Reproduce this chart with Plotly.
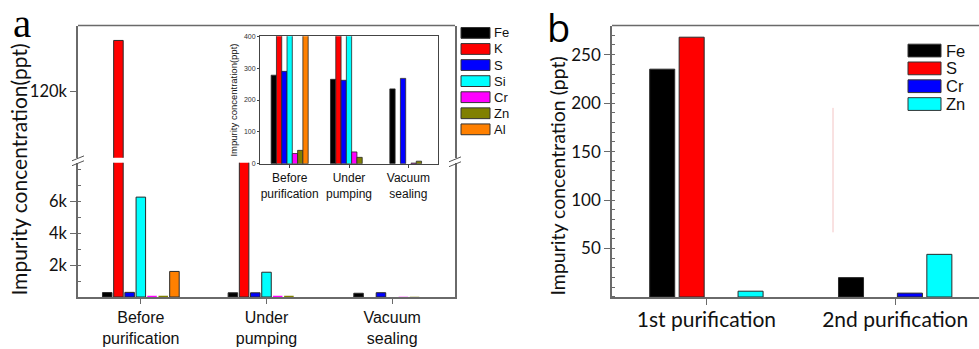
import plotly.graph_objects as go

W, H = 979, 349

# ---------------- data ----------------
a_categories = ["Before<br>purification", "Under<br>pumping", "Vacuum<br>sealing"]
a_elements = ["Fe", "K", "S", "Si", "Cr", "Zn", "Al"]
a_colors = ["#000000", "#ff0000", "#0000ff", "#00ffff", "#ff00ff", "#808000", "#ff8000"]
fe_a = [278, 265, 235]
k_a = [135500, 8800, 0]
s_a = [290, 262, 268]
si_a = [6250, 1550, 0]
cr_a = [32, 37, 2]
zn_a = [42, 20, 8]
al_a = [1600, 0, 0]
a_values = [fe_a, k_a, s_a, si_a, cr_a, zn_a, al_a]

b_categories = ["1st purification", "2nd purification"]
b_elements = ["Fe", "S", "Cr", "Zn"]
b_colors = ["#000000", "#ff0000", "#0000ff", "#00ffff"]
fe_b = [235, 20]
s_b = [268, 0]
cr_b = [0, 4]
zn_b = [6, 44]
b_values = [fe_b, s_b, cr_b, zn_b]

lower_ticks = [2000, 4000, 6000]
lower_ticktext = ["2k", "4k", "6k"]
upper_ticks = [120000]
upper_ticktext = ["120k"]
b_ticks = [50, 100, 150, 200, 250]


def px(x):
    return x / W


def py(y):
    return 1 - y / H


FRAME = "#6a6a6a"
OUTLINE = "#2a2a2a"
SANS = "Liberation Sans"
HUM = "Lato"
BARGAP = 0.376
GROUPGAP = 0.15


def outline_widths(vals, threshold, w):
    # bars too short to be seen get no outline
    return [w if v > threshold else 0 for v in vals]


fig = go.Figure()

inset_w = (1 - BARGAP) / len(a_elements)
for name, col, vals in zip(a_elements, a_colors, a_values):
    fig.add_trace(go.Bar(x=a_categories, y=vals, xaxis="x", yaxis="y", name=name,
                         marker=dict(color=col, line=dict(color=OUTLINE, width=outline_widths(vals, 100, 1))),
                         showlegend=False, hoverinfo="skip"))
    fig.add_trace(go.Bar(x=a_categories, y=vals, xaxis="x", yaxis="y2", name=name,
                         marker=dict(color=col, line=dict(color=OUTLINE, width=1)),
                         showlegend=False, hoverinfo="skip"))
    fig.add_trace(go.Bar(x=a_categories, y=vals, xaxis="x3", yaxis="y3", width=inset_w, name=name,
                         marker=dict(color=col, line=dict(color=OUTLINE, width=outline_widths(vals, 0, 0.8))),
                         showlegend=False, hoverinfo="skip"))

for name, col, vals in zip(b_elements, b_colors, b_values):
    fig.add_trace(go.Bar(x=b_categories, y=vals, xaxis="x4", yaxis="y4", name=name,
                         marker=dict(color=col, line=dict(color=OUTLINE, width=outline_widths(vals, 0, 1))),
                         showlegend=False, hoverinfo="skip"))

axis_common = dict(showgrid=False, zeroline=False, showline=True, linecolor=FRAME, linewidth=1.5,
                   tickcolor=FRAME, fixedrange=True)

fig.update_layout(
    width=W, height=H, margin=dict(l=0, r=0, t=0, b=0), autosize=False,
    paper_bgcolor="white", plot_bgcolor="white",
    barmode="group", bargap=BARGAP, bargroupgap=GROUPGAP,
    showlegend=False,
    xaxis=dict(domain=[px(78), px(455)], anchor="y", type="category", range=[-0.5, 2.5],
               ticks="outside", ticklen=5, tickwidth=1.2,
               tickfont=dict(family=SANS, size=16, color="#111"), **axis_common),
    yaxis=dict(domain=[py(299), py(162)], anchor="x", range=[0, 8400], mirror=True,
               tickvals=lower_ticks, ticktext=lower_ticktext, ticks="outside", ticklen=6,
               tickwidth=1.2, tickfont=dict(family=HUM, size=16.5, color="#111"),
               minor=dict(dtick=1000, ticks="inside", ticklen=3, tickcolor=FRAME, showgrid=False),
               **axis_common),
    yaxis2=dict(domain=[py(157), py(22)], anchor="x", range=[100000, 140000], mirror=True,
                tickvals=upper_ticks, ticktext=upper_ticktext, ticks="outside", ticklen=6,
                tickwidth=1.2, tickfont=dict(family=HUM, size=16.5, color="#111"),
                **axis_common),
    xaxis3=dict(domain=[px(260), px(438)], anchor="y3", type="category", range=[-0.5, 2.5],
                mirror=True, ticks="outside", ticklen=3, showgrid=False, zeroline=False,
                showline=True, linecolor="#444", linewidth=1, tickcolor="#444", fixedrange=True,
                tickfont=dict(family=SANS, size=12, color="#111")),
    yaxis3=dict(domain=[py(163), py(33)], anchor="x3", range=[0, 400], dtick=100, mirror=True,
                ticks="outside", ticklen=2, showgrid=False, zeroline=False, showline=True,
                linecolor="#444", linewidth=1, tickcolor="#444", fixedrange=True,
                tickfont=dict(family=SANS, size=7, color="#333"),
                title=dict(text="Impurity concentration(ppt)", standoff=4,
                           font=dict(family=SANS, size=9.5, color="#111"))),
    xaxis4=dict(domain=[px(612), 1.0], anchor="y4", type="category", range=[-0.5, 1.444],
                ticks="outside", ticklen=6, tickwidth=1.2, ticklabelstandoff=-3,
                tickfont=dict(family=HUM, size=21, color="#111"), **axis_common),
    yaxis4=dict(domain=[py(299), py(22)], anchor="x4", range=[0, 280],
                tickvals=b_ticks, ticks="outside", ticklen=6, tickwidth=1.2,
                tickfont=dict(family=HUM, size=17, color="#111"),
                minor=dict(dtick=10, ticks="inside", ticklen=3, tickcolor=FRAME, showgrid=False),
                **axis_common),
)

shapes = []
# top frame lines
shapes.append(dict(type="line", xref="paper", yref="paper", x0=px(78), x1=px(455), y0=py(22), y1=py(22),
                   line=dict(color=FRAME, width=1.5)))
shapes.append(dict(type="line", xref="paper", yref="paper", x0=px(612), x1=1.0, y0=py(22), y1=py(22),
                   line=dict(color=FRAME, width=1.5)))
# break marks
for cx, cy in [(78, 160), (455, 161)]:
    for dy in (-2.5, 2.5):
        shapes.append(dict(type="line", xref="paper", yref="paper",
                           x0=px(cx - 6), y0=py(cy + dy + 2.5), x1=px(cx + 6), y1=py(cy + dy - 2.5),
                           line=dict(color="#555", width=1)))
# faint artifact line in panel b
shapes.append(dict(type="line", xref="paper", yref="paper", x0=px(833), x1=px(833), y0=py(106), y1=py(233),
                   line=dict(color="#f3c4c4", width=1)))

annotations = []
# legends
for i, (name, col) in enumerate(zip(a_elements, a_colors)):
    cy = 29.5 + i * 16.4
    shapes.append(dict(type="rect", xref="paper", yref="paper", x0=px(461), x1=px(490),
                       y0=py(cy + 5.5), y1=py(cy - 5.5), fillcolor=col, line=dict(color="#333", width=1)))
    annotations.append(dict(text=name, xref="paper", yref="paper", x=px(492), y=py(cy), xanchor="left",
                            yanchor="middle", showarrow=False, font=dict(family=SANS, size=13, color="#111")))
for i, (name, col) in enumerate(zip(b_elements, b_colors)):
    cy = 47.5 + i * 18.2
    shapes.append(dict(type="rect", xref="paper", yref="paper", x0=px(908), x1=px(941),
                       y0=py(cy + 6.5), y1=py(cy - 6.5), fillcolor=col, line=dict(color="#333", width=1)))
    annotations.append(dict(text=name, xref="paper", yref="paper", x=px(944), y=py(cy), xanchor="left",
                            yanchor="middle", showarrow=False, font=dict(family=SANS, size=16.5, color="#111")))

annotations += [
    dict(text="Impurity concentration(ppt)", xref="paper", yref="paper", x=px(19), y=py(169),
         textangle=-90, showarrow=False, xanchor="center", yanchor="middle",
         font=dict(family=HUM, size=21, color="#111")),
    dict(text="Impurity concentration (ppt)", xref="paper", yref="paper", x=px(557), y=py(176),
         textangle=-90, showarrow=False, xanchor="center", yanchor="middle",
         font=dict(family=HUM, size=19.5, color="#111")),
    dict(text="a", xref="paper", yref="paper", x=px(22), y=py(19), showarrow=False,
         xanchor="center", yanchor="middle", font=dict(family="Liberation Serif", size=41, color="#000")),
    dict(text="b", xref="paper", yref="paper", x=px(558), y=py(23), showarrow=False,
         xanchor="center", yanchor="middle", font=dict(family="Open Sans", size=38, color="#000")),
]

fig.update_layout(shapes=shapes, annotations=annotations)
fig.write_html("out.html")
